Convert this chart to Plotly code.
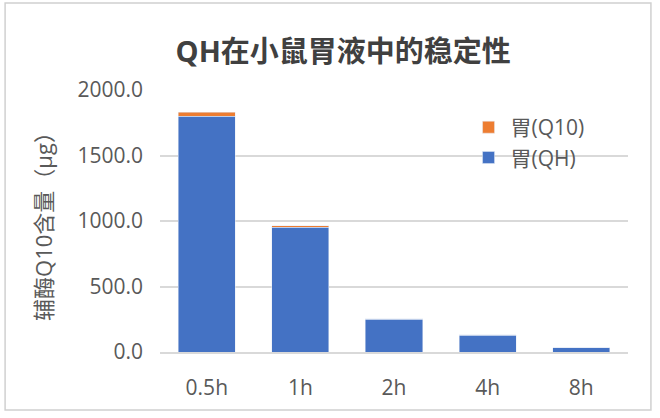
import plotly.graph_objects as go

# ── Dados ─────────────────────────────────────────────────────────────────────
times = ["0.5h", "1h", "2h", "4h", "8h"]
qh_vals = [1800.0, 952.0, 250.0, 128.0, 32.0]
q10_vals = [30.0, 10.0, 3.0, 2.0, 1.0]
y_ticks = [0, 500, 1000, 1500, 2000]

_BLUE = "#4472c4"
_ORANGE = "#ed7d31"
_GRID = "#d9d9d9"
_TEXT = "#595959"
_FONT = "Open Sans, Noto Sans CJK SC, sans-serif"

fig = go.Figure()
fig.add_trace(go.Bar(x=times, y=qh_vals, name="胃(QH)", marker_color=_BLUE))
fig.add_trace(go.Bar(x=times, y=q10_vals, name="胃(Q10)", marker_color=_ORANGE))

fig.update_layout(
    width=660, height=418,
    barmode="stack", bargap=0.39,
    paper_bgcolor="white", plot_bgcolor="white",
    font=dict(family=_FONT, color=_TEXT, size=20),
    margin=dict(l=160, r=32, t=90, b=66),
    title=dict(text="<b>QH在小鼠胃液中的稳定性</b>", x=0.52, xanchor="center",
               y=0.875, yanchor="middle",
               font=dict(size=29, color="#404040", family=_FONT)),
    legend=dict(traceorder="reversed", x=0.655, y=0.935, xanchor="left", yanchor="top",
                bgcolor="rgba(0,0,0,0)", font=dict(size=21, color=_TEXT),
                itemwidth=34, tracegroupgap=0),
    showlegend=True,
)
fig.update_yaxes(range=[0, 2000], tickvals=y_ticks, tickformat=".1f",
                 gridcolor=_GRID, gridwidth=1.5, zeroline=False, showline=False,
                 ticks="", ticklabelstandoff=16, tickfont=dict(size=21),
                 title=dict(text="辅酶Q10含量（μg）", standoff=18,
                            font=dict(size=22, color=_TEXT)))
fig.update_xaxes(showline=True, linecolor=_GRID, linewidth=1.5, ticks="",
                 ticklabelstandoff=16, showgrid=False, tickfont=dict(size=21))

# borda cinza em volta da imagem
fig.add_shape(type="rect", xref="paper", yref="paper", x0=-0.331, x1=1.049,
              y0=-0.221, y1=1.332, line=dict(color="#d0d0d0", width=1.5))

fig.write_html("out.html", config={"displayModeBar": False},
               post_script="document.body.style.margin='0';")
